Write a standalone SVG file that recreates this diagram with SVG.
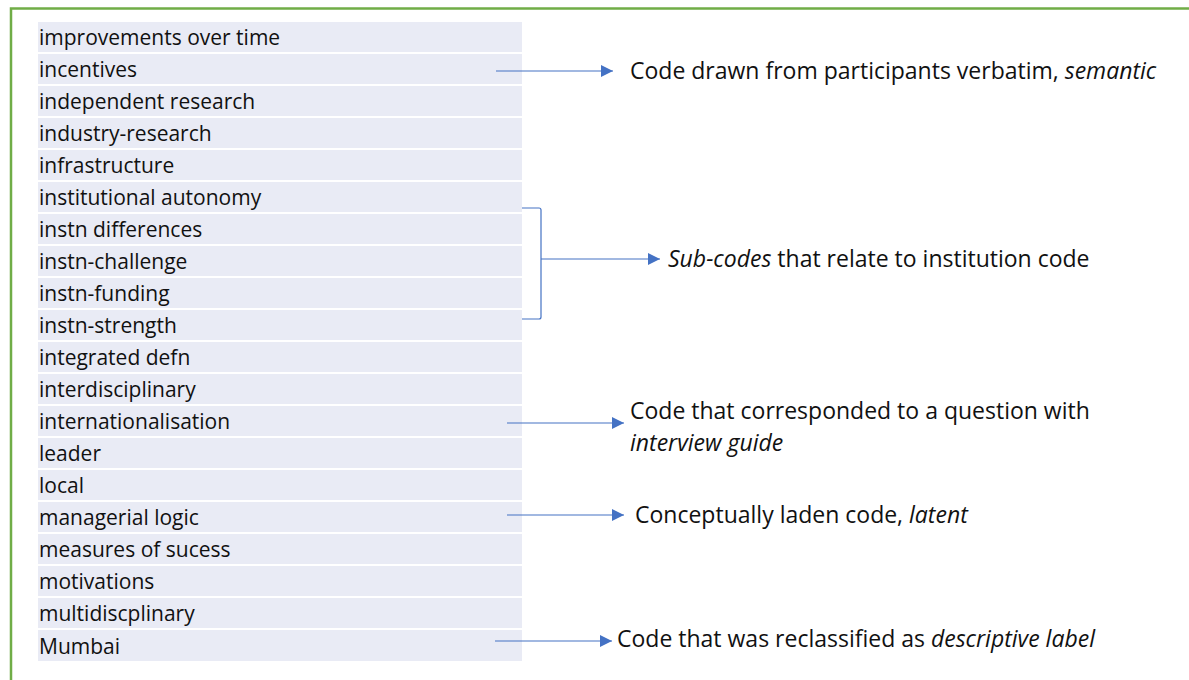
<svg xmlns="http://www.w3.org/2000/svg" width="1189" height="680" viewBox="0 0 1189 680">
  <style>
    .row { fill: #e9ebf5; }
    .lbl { font-family: "Open Sans", "Liberation Sans", sans-serif; font-size: 21px; fill: #111; }
    .note { font-family: "Open Sans", "Liberation Sans", sans-serif; font-size: 23px; fill: #111; }
    .it { font-style: italic; }
    .conn { stroke: #4472c4; stroke-width: 1.2; fill: none; }
  </style>
  <defs>
    <marker id="arrow" viewBox="0 0 10 10" refX="10" refY="5" markerWidth="12" markerHeight="12" markerUnits="userSpaceOnUse" orient="auto">
      <path d="M0,0 L10,5 L0,10 z" fill="#4472c4"/>
    </marker>
  </defs>
  <rect width="1189" height="680" fill="#ffffff"/>
  <!-- frame -->
  <path d="M11,680 V8.5 H1189" fill="none" stroke="#70ad47" stroke-width="2.5"/>

  <!-- code list -->
  <g id="codes">
    <g id="code-01"><rect class="row" x="38" y="22" width="484" height="30"/><text class="lbl" x="39" y="45">improvements over time</text></g>
    <g id="code-02"><rect class="row" x="38" y="54" width="484" height="30"/><text class="lbl" x="39" y="77">incentives</text></g>
    <g id="code-03"><rect class="row" x="38" y="86" width="484" height="30"/><text class="lbl" x="39" y="109">independent research</text></g>
    <g id="code-04"><rect class="row" x="38" y="118" width="484" height="30"/><text class="lbl" x="39" y="141">industry-research</text></g>
    <g id="code-05"><rect class="row" x="38" y="150" width="484" height="30"/><text class="lbl" x="39" y="173">infrastructure</text></g>
    <g id="code-06"><rect class="row" x="38" y="182" width="484" height="30"/><text class="lbl" x="39" y="205">institutional autonomy</text></g>
    <g id="code-07"><rect class="row" x="38" y="214" width="484" height="30"/><text class="lbl" x="39" y="237">instn differences</text></g>
    <g id="code-08"><rect class="row" x="38" y="246" width="484" height="30"/><text class="lbl" x="39" y="269">instn-challenge</text></g>
    <g id="code-09"><rect class="row" x="38" y="278" width="484" height="30"/><text class="lbl" x="39" y="301">instn-funding</text></g>
    <g id="code-10"><rect class="row" x="38" y="310" width="484" height="30"/><text class="lbl" x="39" y="333">instn-strength</text></g>
    <g id="code-11"><rect class="row" x="38" y="342" width="484" height="30"/><text class="lbl" x="39" y="365">integrated defn</text></g>
    <g id="code-12"><rect class="row" x="38" y="374" width="484" height="30"/><text class="lbl" x="39" y="397">interdisciplinary</text></g>
    <g id="code-13"><rect class="row" x="38" y="406" width="484" height="30"/><text class="lbl" x="39" y="429">internationalisation</text></g>
    <g id="code-14"><rect class="row" x="38" y="438" width="484" height="30"/><text class="lbl" x="39" y="461">leader</text></g>
    <g id="code-15"><rect class="row" x="38" y="470" width="484" height="30"/><text class="lbl" x="39" y="493">local</text></g>
    <g id="code-16"><rect class="row" x="38" y="502" width="484" height="30"/><text class="lbl" x="39" y="525">managerial logic</text></g>
    <g id="code-17"><rect class="row" x="38" y="534" width="484" height="30"/><text class="lbl" x="39" y="557">measures of sucess</text></g>
    <g id="code-18"><rect class="row" x="38" y="566" width="484" height="30"/><text class="lbl" x="39" y="589">motivations</text></g>
    <g id="code-19"><rect class="row" x="38" y="598" width="484" height="30"/><text class="lbl" x="39" y="621">multidiscplinary</text></g>
    <g id="code-20"><rect class="row" x="38" y="630" width="484" height="31"/><text class="lbl" x="39" y="654">Mumbai</text></g>
  </g>

  <!-- annotations -->
  <g id="note-semantic"><text class="note" x="630" y="79">Code drawn from participants verbatim, <tspan class="it">semantic</tspan></text></g>
  <g id="note-subcodes"><text class="note" x="668" y="267"><tspan class="it">Sub-codes</tspan> that relate to institution code</text></g>
  <g id="note-guide">
    <text class="note" x="630" y="419">Code that corresponded to a question with</text>
    <text class="note it" x="630" y="451">interview guide</text>
  </g>
  <g id="note-latent"><text class="note" x="635" y="523">Conceptually laden code, <tspan class="it">latent</tspan></text></g>
  <g id="note-descriptive"><text class="note" x="617" y="647">Code that was reclassified as <tspan class="it">descriptive label</tspan></text></g>

  <!-- connectors -->
  <g id="connectors">
    <line class="conn" x1="496" y1="71" x2="613" y2="71" marker-end="url(#arrow)"/>
    <path class="conn" d="M522,208 H539 Q541,208 541,210 V317 Q541,319 539,319 H522"/>
    <line class="conn" x1="541" y1="259" x2="660" y2="259" marker-end="url(#arrow)"/>
    <line class="conn" x1="507" y1="423" x2="624" y2="423" marker-end="url(#arrow)"/>
    <line class="conn" x1="507" y1="515" x2="624" y2="515" marker-end="url(#arrow)"/>
    <line class="conn" x1="495" y1="641" x2="612" y2="641" marker-end="url(#arrow)"/>
  </g>
</svg>
